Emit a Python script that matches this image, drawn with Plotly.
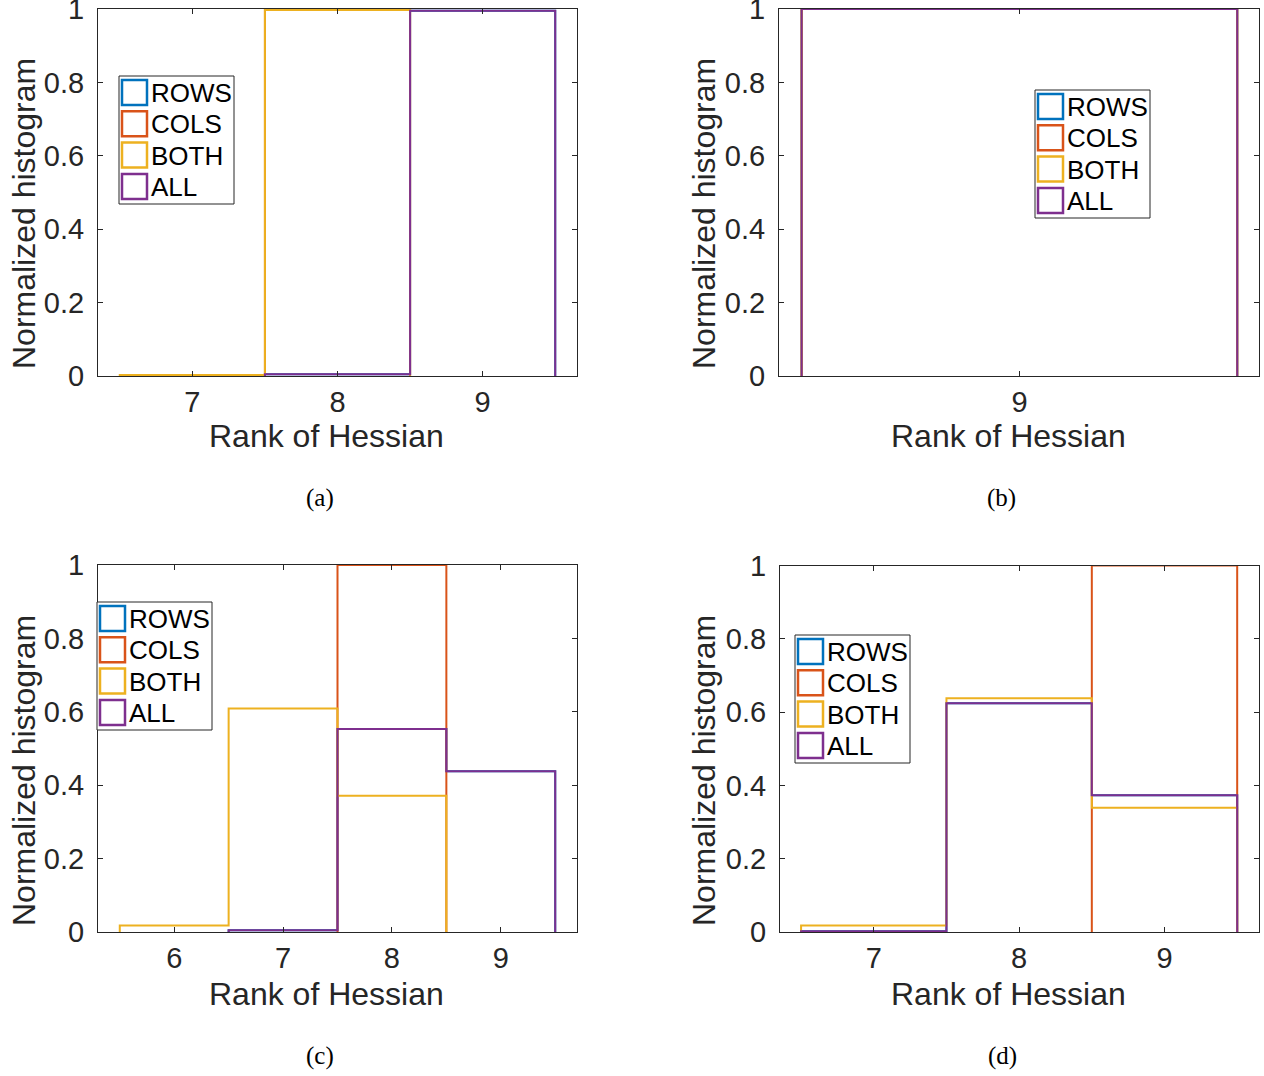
import plotly.graph_objects as go

# ---------------- data ----------------
SERIES = ["ROWS", "COLS", "BOTH", "ALL"]
COLORS = ["#0072BD", "#D95319", "#EDB120", "#7E2F8E"]

# panel (a)
a_rows_bins = [8, 9];        a_rows_vals = [0.005, 0.995]
a_cols_bins = [8];           a_cols_vals = [1.0]
a_both_bins = [7, 8];        a_both_vals = [0.003, 0.997]
a_all_bins = [8, 9];         a_all_vals = [0.005, 0.995]
# panel (b)
b_rows_bins = [9];           b_rows_vals = [1.0]
b_cols_bins = [9];           b_cols_vals = [1.0]
b_both_bins = [9];           b_both_vals = [1.0]
b_all_bins = [9];            b_all_vals = [1.0]
# panel (c)
c_rows_bins = [7, 8, 9];     c_rows_vals = [0.005, 0.553, 0.438]
c_cols_bins = [8];           c_cols_vals = [1.0]
c_both_bins = [6, 7, 8];     c_both_vals = [0.018, 0.609, 0.371]
c_all_bins = [7, 8, 9];      c_all_vals = [0.005, 0.553, 0.438]
# panel (d)
d_rows_bins = [7, 8, 9];     d_rows_vals = [0.002, 0.624, 0.373]
d_cols_bins = [9];           d_cols_vals = [1.0]
d_both_bins = [7, 8, 9];     d_both_vals = [0.018, 0.638, 0.339]
d_all_bins = [7, 8, 9];      d_all_vals = [0.002, 0.624, 0.373]

X_TICKS = {"a": [7, 8, 9], "b": [9], "c": [6, 7, 8, 9], "d": [7, 8, 9]}
Y_TICKS = [0, 0.2, 0.4, 0.6, 0.8, 1]
Y_TICK_LABELS = ["0", "0.2", "0.4", "0.6", "0.8", "1"]
X_TITLE = "Rank of Hessian"
Y_TITLE = "Normalized histogram"
CAPTIONS = ["(a)", "(b)", "(c)", "(d)"]

PANEL_DATA = {
    "a": [(a_rows_bins, a_rows_vals), (a_cols_bins, a_cols_vals), (a_both_bins, a_both_vals), (a_all_bins, a_all_vals)],
    "b": [(b_rows_bins, b_rows_vals), (b_cols_bins, b_cols_vals), (b_both_bins, b_both_vals), (b_all_bins, b_all_vals)],
    "c": [(c_rows_bins, c_rows_vals), (c_cols_bins, c_cols_vals), (c_both_bins, c_both_vals), (c_all_bins, c_all_vals)],
    "d": [(d_rows_bins, d_rows_vals), (d_cols_bins, d_cols_vals), (d_both_bins, d_both_vals), (d_all_bins, d_all_vals)],
}

# ---------------- layout (pixels) ----------------
W, H = 1264, 1076
FONT = "Liberation Sans, Arial, sans-serif"
AX_COLOR = "#262626"

PANELS = {
    "a": dict(box=(98, 577, 9, 376), xr=[6.35, 9.65], leg=(119, 76), yt=(24, 214), xt=(326, 436), cap=(320, 498)),
    "b": dict(box=(779, 1259, 9, 376), xr=[8.448, 9.55], leg=(1035, 90), yt=(704, 214), xt=(1008, 436), cap=(1001, 498)),
    "c": dict(box=(98, 577, 565, 932), xr=[5.3, 9.7], leg=(97, 602), yt=(24, 771), xt=(326, 994), cap=(320, 1056)),
    "d": dict(box=(780, 1259, 565.5, 932), xr=[6.355, 9.65], leg=(795, 635), yt=(704, 771), xt=(1008, 994), cap=(1002, 1056)),
}


def px(x):
    return x / W


def py(y):
    return 1 - y / H


def stairs(bins, vals):
    edges = [b - 0.5 for b in bins] + [bins[-1] + 0.5]
    xs = [edges[0]] + edges[:-1] + [edges[-1]]
    ys = [0] + list(vals) + [0]
    return xs, ys


fig = go.Figure()
shapes = []
annotations = []

for i, (key, p) in enumerate(PANELS.items()):
    n = "" if i == 0 else str(i + 1)
    xa, ya = "x" + n, "y" + n
    for s, (bins, vals) in enumerate(PANEL_DATA[key]):
        xs, ys = stairs(bins, vals)
        fig.add_trace(go.Scatter(
            x=xs, y=ys, mode="lines", line=dict(color=COLORS[s], width=2, shape="hv"),
            name=SERIES[s], showlegend=False, xaxis=xa, yaxis=ya, cliponaxis=False,
        ))
    l, r, t, b = p["box"]
    common = dict(showline=True, mirror="allticks", linecolor=AX_COLOR, linewidth=1,
                  ticks="inside", ticklen=5, tickcolor=AX_COLOR, tickwidth=1,
                  showgrid=False, zeroline=False, automargin=False, ticklabeloverflow="allow",
                  tickfont=dict(family=FONT, size=29, color=AX_COLOR))
    fig.layout["xaxis" + n] = dict(domain=[px(l), px(r)], range=p["xr"], anchor=ya,
                                   tickvals=X_TICKS[key], ticklabelstandoff=0, **common)
    fig.layout["yaxis" + n] = dict(domain=[py(b), py(t)], range=[0, 1], anchor=xa,
                                   tickvals=Y_TICKS, ticktext=Y_TICK_LABELS, ticklabelstandoff=7, **common)

    # axis titles
    yx, yy = p["yt"]
    annotations.append(dict(text=Y_TITLE, x=px(yx), y=py(yy), xref="paper", yref="paper",
                            showarrow=False, textangle=-90, xanchor="center", yanchor="middle",
                            font=dict(family=FONT, size=32, color=AX_COLOR)))
    xx, xy = p["xt"]
    annotations.append(dict(text=X_TITLE, x=px(xx), y=py(xy), xref="paper", yref="paper",
                            showarrow=False, xanchor="center", yanchor="middle",
                            font=dict(family=FONT, size=32, color=AX_COLOR)))
    cx, cy = p["cap"]
    annotations.append(dict(text=CAPTIONS[i], x=px(cx), y=py(cy), xref="paper", yref="paper",
                            showarrow=False, xanchor="center", yanchor="middle",
                            font=dict(family="Liberation Serif, DejaVu Serif, serif", size=25, color="black")))

    # legend box
    L, T = p["leg"]
    shapes.append(dict(type="rect", xref="paper", yref="paper",
                       x0=px(L), x1=px(L + 115), y0=py(T + 128), y1=py(T),
                       line=dict(color=AX_COLOR, width=1), fillcolor="white", layer="above"))
    for s, name in enumerate(SERIES):
        y0 = T + 4 + 31.3 * s
        shapes.append(dict(type="rect", xref="paper", yref="paper",
                           x0=px(L + 3), x1=px(L + 28), y0=py(y0 + 25), y1=py(y0),
                           line=dict(color=COLORS[s], width=2.5), fillcolor="rgba(0,0,0,0)", layer="above"))
        annotations.append(dict(text=name, x=px(L + 29.5), y=py(y0 + 13), xref="paper", yref="paper",
                                showarrow=False, xanchor="left", yanchor="middle",
                                font=dict(family=FONT, size=26, color="black")))

fig.update_layout(width=W, height=H, margin=dict(l=0, r=0, t=0, b=0, autoexpand=False),
                  paper_bgcolor="white", plot_bgcolor="white",
                  shapes=shapes, annotations=annotations, showlegend=False)

fig.write_html("out.html", config={"displayModeBar": False},
               post_script="document.body.style.margin='0';")
